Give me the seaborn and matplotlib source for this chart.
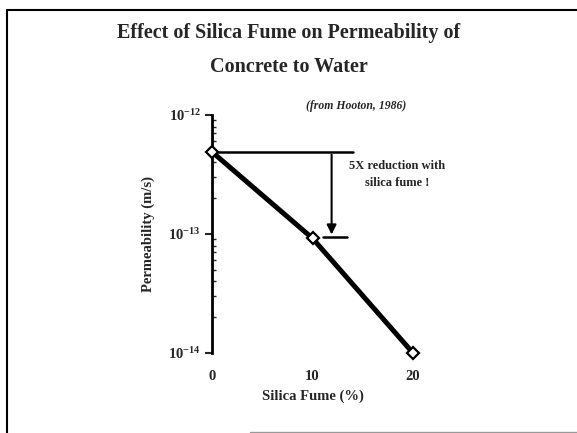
import matplotlib
matplotlib.use("Agg")
import matplotlib.pyplot as plt
import matplotlib.ticker as mticker
from matplotlib.lines import Line2D
import seaborn as sns
import pandas as pd

silica_fume = [0, 10, 20]
permeability = [4.9e-13, 0.92e-13, 1.0e-14]
x_ticks = [0, 10, 20]
y_ticks = [1e-14, 1e-13, 1e-12]
y_tick_labels = [r"$10^{-14}$", r"$10^{-13}$", r"$10^{-12}$"]

sns.set_style("white")
plt.rcParams["font.family"] = ["Liberation Serif", "DejaVu Serif"]
plt.rcParams["font.weight"] = "bold"
plt.rcParams["mathtext.fontset"] = "custom"
plt.rcParams["mathtext.rm"] = "Liberation Serif:bold"
plt.rcParams["mathtext.it"] = "Liberation Serif:bold"
plt.rcParams["mathtext.bf"] = "Liberation Serif:bold"

W, H = 577, 433
fig = plt.figure(figsize=(W / 100, H / 100), dpi=100)
ax = fig.add_axes([212 / W, 1 - 353 / H, (413 - 212) / W, (353 - 115) / H])

df = pd.DataFrame({"Silica Fume (%)": silica_fume, "Permeability (m/s)": permeability})
sns.lineplot(data=df, x="Silica Fume (%)", y="Permeability (m/s)", ax=ax,
             color="black", linewidth=3.6, marker="D", markersize=6,
             markerfacecolor="white", markeredgecolor="black", markeredgewidth=1.6,
             clip_on=False, zorder=5)

ax.set_yscale("log")
ax.set_xlim(0, 20)
ax.set_ylim(1e-14, 1e-12)
ax.set_xticks(x_ticks)
ax.set_xticklabels([str(v) for v in x_ticks], fontsize=10.5, fontweight="bold")
ax.set_yticks(y_ticks)
ax.set_yticklabels(y_tick_labels, fontsize=10.5)
ax.yaxis.set_minor_locator(mticker.LogLocator(base=10, subs=range(2, 10)))
ax.yaxis.set_minor_formatter(mticker.NullFormatter())
ax.tick_params(axis="y", which="major", direction="out", length=5, width=1.5, pad=3, left=True)
ax.tick_params(axis="y", which="minor", direction="in", length=3, width=1, left=True)
ax.tick_params(axis="x", which="major", direction="out", length=0, width=1.5, pad=12, bottom=True)

for s in ["top", "right", "bottom"]:
    ax.spines[s].set_visible(False)
ax.spines["left"].set_linewidth(2)
ax.spines["left"].set_color("black")

ax.set_xlabel("Silica Fume (%)", fontsize=10.5, fontweight="bold", labelpad=5)
ax.set_ylabel("Permeability (m/s)", fontsize=10.5, fontweight="bold")
ax.yaxis.set_label_coords((155 - 212) / 201, 0.5)

# reduction annotation
arrow_x = 11.9
ax.plot([0, 14.0], [permeability[0], permeability[0]], color="black", lw=1.8, zorder=4)
ax.annotate("", xy=(arrow_x, permeability[1] * 1.02), xytext=(arrow_x, permeability[0]),
            arrowprops=dict(arrowstyle="-|>", color="black", lw=1.5, mutation_scale=14))
ax.plot([11.0, 13.4], [permeability[1] * 1.02, permeability[1] * 1.02], color="black", lw=1.8)
ax.text(18.4, 3.15e-13, "5X reduction with\nsilica fume !", ha="center", va="center",
        fontsize=9, fontweight="bold", linespacing=1.5)
ax.text(14.3, 1.2e-12, "(from Hooton, 1986)", ha="center", va="center",
        fontsize=8.5, fontweight="bold", style="italic", clip_on=False)

fig.text(0.5, 1 - 33 / H, "Effect of Silica Fume on Permeability of", ha="center", va="center",
         fontsize=14.5, fontweight="bold")
fig.text(0.5, 1 - 67 / H, "Concrete to Water", ha="center", va="center",
         fontsize=14.5, fontweight="bold")

# slide frame
fig.add_artist(Line2D([7 / W, 7 / W], [0, 1 - 10 / H], color="black", lw=1.5, transform=fig.transFigure))
fig.add_artist(Line2D([7 / W, 1], [1 - 10 / H, 1 - 10 / H], color="black", lw=1.5, transform=fig.transFigure))
fig.add_artist(Line2D([250 / W, 1], [1 - 432 / H, 1 - 432 / H], color="#999999", lw=1.0, transform=fig.transFigure))

fig.savefig("out.png", dpi=100)
